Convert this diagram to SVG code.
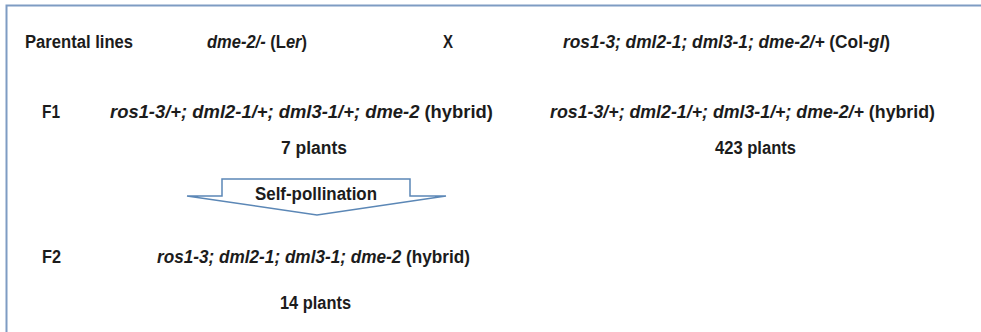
<svg xmlns="http://www.w3.org/2000/svg" width="981" height="332" viewBox="0 0 981 332">
<style>
.t{font-family:"Liberation Sans",Arial,sans-serif;font-weight:bold;font-size:18px;fill:#1c1c1c}
.i{font-style:italic}
.frame{fill:none;stroke:#7e9cc3;stroke-width:2}
.arrow{fill:#ffffff;stroke:#5b87b6;stroke-width:1.5;stroke-linejoin:miter}
</style>
<rect width="981" height="332" fill="#ffffff"/>
<rect class="frame" x="6.5" y="5.5" width="1000" height="340"/>
<g id="row-parental">
<text class="t" x="25" y="47.5" textLength="108" lengthAdjust="spacingAndGlyphs">Parental lines</text>
<g id="parent-ler"><text class="t" x="207" y="47.5" textLength="100" lengthAdjust="spacingAndGlyphs"><tspan class="i">dme-2/-</tspan> (L<tspan class="i">er</tspan>)</text></g>
<g id="cross"><text class="t" x="443" y="47.5" textLength="10" lengthAdjust="spacingAndGlyphs">X</text></g>
<g id="parent-col"><text class="t" x="563" y="47.5" textLength="327" lengthAdjust="spacingAndGlyphs"><tspan class="i">ros1-3; dml2-1; dml3-1; dme-2/+</tspan> (Col-<tspan class="i">gl</tspan>)</text></g>
</g>
<g id="row-f1">
<text class="t" x="42" y="118" textLength="18" lengthAdjust="spacingAndGlyphs">F1</text>
<g id="f1-left"><text class="t" x="110" y="118" textLength="383" lengthAdjust="spacingAndGlyphs"><tspan class="i">ros1-3/+; dml2-1/+; dml3-1/+; dme-2</tspan> (hybrid)</text>
<text class="t" x="281" y="154" textLength="66" lengthAdjust="spacingAndGlyphs">7 plants</text></g>
<g id="f1-right"><text class="t" x="550" y="118" textLength="385" lengthAdjust="spacingAndGlyphs"><tspan class="i">ros1-3/+; dml2-1/+; dml3-1/+; dme-2/+</tspan> (hybrid)</text>
<text class="t" x="715" y="153.5" textLength="81" lengthAdjust="spacingAndGlyphs">423 plants</text></g>
</g>
<g id="connectors">
<g id="self-pollination">
<polygon class="arrow" points="222,179 410,179 410,196 446,196 317,215 187,196 222,196"/>
<text class="t" x="255" y="200" textLength="122" lengthAdjust="spacingAndGlyphs">Self-pollination</text>
</g>
</g>
<g id="row-f2">
<text class="t" x="42" y="263" textLength="19" lengthAdjust="spacingAndGlyphs">F2</text>
<g id="f2"><text class="t" x="157" y="263" textLength="313" lengthAdjust="spacingAndGlyphs"><tspan class="i">ros1-3; dml2-1; dml3-1; dme-2</tspan> (hybrid)</text>
<text class="t" x="280" y="309" textLength="71" lengthAdjust="spacingAndGlyphs">14 plants</text></g>
</g>
</svg>
